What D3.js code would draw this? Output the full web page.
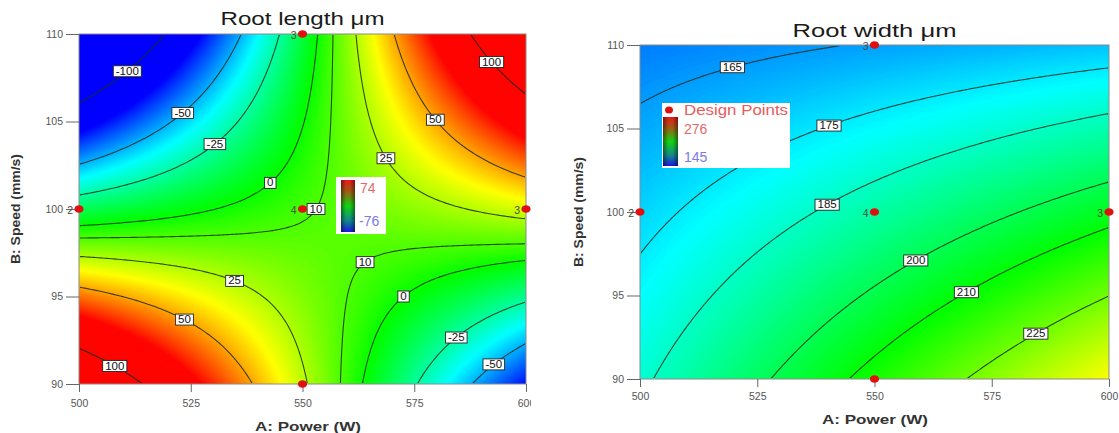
<!DOCTYPE html>
<html><head><meta charset="utf-8">
<script src="https://cdn.jsdelivr.net/npm/d3@7"></script>
<style>
body{margin:0;background:#fff;}
svg{display:block;font-family:"Liberation Sans",Arial,sans-serif;}
</style>
</head><body>
<svg id="chart" width="1119" height="433"></svg>
<script>
// ---------------- data ----------------
const powerTicks = [500, 525, 550, 575, 600];
const speedTicks = [90, 95, 100, 105, 110];
// response-surface coefficients (coded units): [intercept, A, B, AB]
const lengthCoef = [8.65, 22.3, -18.6, 124];
const widthCoef  = [189.4, 17.2, -23.85, -12.75];
const lengthLevels = [-100, -50, -25, 0, 10, 25, 50, 100];
const widthLevels  = [165, 175, 185, 200, 210, 225];
const lengthRange = [-76, 74];
const widthRange  = [145, 276];
// contour label anchors: power, speed, level
const lengthLabelPower = [510.8, 523.2, 530.4, 542.8, 552.3, 569.2, 580, 592.4, 564, 572.6, 584.4, 592.8, 534.8, 523.6, 508];
const lengthLabelSpeed = [108.1, 105.9, 104.1, 101.9, 100, 102.9, 105.1, 108.4, 97.6, 95.7, 93.4, 91.9, 96.3, 94.2, 91.6];
const lengthLabelLevel = [-100, -50, -25, 0, 10, 25, 50, 100, 10, 0, -25, -50, 25, 50, 100];
const widthLabelPower = [519.7, 540.3, 539.9, 558.8, 569.6, 584.4];
const widthLabelSpeed = [109.1, 105.6, 100.9, 97.5, 95.6, 93.1];
const widthLabelLevel = [165, 175, 185, 200, 210, 225];
// design points
const designPower = [550, 500, 550, 600, 550];
const designSpeed = [110, 100, 100, 100, 90];
const designCount = ["3", "2", "4", "3", ""];

// ---------------- drawing ----------------
const svg = d3.select("#chart");
const defs = svg.append("defs");

function model(c, A, B) {
  const X = (A - 550) / 50, Y = (B - 100) / 10;
  return c[0] + c[1] * X + c[2] * Y + c[3] * X * Y;
}

function drawPanel(p) {
  const root = svg.append("g");
  if (p.clipW) {
    defs.append("clipPath").attr("id", p.id + "-panel")
      .append("rect").attr("x", 0).attr("y", 0).attr("width", p.clipW).attr("height", 433);
    root.attr("clip-path", `url(#${p.id}-panel)`);
  }
  const x = d3.scaleLinear().domain([500, 600]).range([p.left, p.right]);
  const y = d3.scaleLinear().domain([90, 110]).range([p.bottom, p.top]);
  const w = p.right - p.left, h = p.bottom - p.top;
  const nx = 200, ny = 160;
  const vals = new Array(nx * ny);
  for (let j = 0; j < ny; j++) {
    const B = y.invert(p.top + (j + 0.5) * h / ny);
    for (let i = 0; i < nx; i++) {
      const A = x.invert(p.left + (i + 0.5) * w / nx);
      vals[j * nx + i] = model(p.coef, A, B);
    }
  }
  const proj = d3.geoTransform({point(px, py) {
    this.stream.point(x(500 + px / nx * 100), y(110 - py / ny * 20));
  }});
  const path = d3.geoPath(proj);
  const r = p.range;
  const color = d3.scaleLinear()
    .domain(d3.range(5).map(k => r[0] + k * (r[1] - r[0]) / 4))
    .range(["#0000ff", "#00ffff", "#00ff00", "#ffff00", "#ff0000"])
    .clamp(true);
  const [vmin, vmax] = d3.extent(vals);
  const lo = Math.max(vmin, r[0]), hi = Math.min(vmax, r[1]);
  const nb = 180, step = (hi - lo) / nb;
  const ths = d3.range(nb).map(k => lo + k * step);

  root.append("rect").attr("x", p.left).attr("y", p.top).attr("width", w).attr("height", h)
    .attr("fill", color(vmin));
  root.append("g").selectAll("path")
    .data(d3.contours().size([nx, ny]).thresholds(ths)(vals))
    .join("path").attr("d", path).attr("fill", d => color(d.value + step / 2));

  // contour lines (clipped to hide frame segments)
  defs.append("clipPath").attr("id", p.id + "-inner")
    .append("rect").attr("x", p.left + 1).attr("y", p.top + 1).attr("width", w - 2).attr("height", h - 2);
  root.append("g").attr("clip-path", `url(#${p.id}-inner)`)
    .selectAll("path")
    .data(d3.contours().size([nx, ny]).thresholds(p.levels)(vals))
    .join("path").attr("d", path)
    .attr("fill", "none").attr("stroke", "#1b2b1b").attr("stroke-width", 1.1).attr("stroke-opacity", 0.85);

  // frame
  root.append("rect").attr("x", p.left).attr("y", p.top).attr("width", w).attr("height", h)
    .attr("fill", "none").attr("stroke", "#8a8a8a").attr("stroke-width", 1);

  // axes
  const ax = root.append("g").attr("transform", `translate(0,${p.bottom})`)
    .call(d3.axisBottom(x).tickValues(powerTicks).tickSize(8).tickSizeOuter(0).tickPadding(p.xPad));
  const ay = root.append("g").attr("transform", `translate(${p.left},0)`)
    .call(d3.axisLeft(y).tickValues(speedTicks).tickSize(13).tickSizeOuter(0).tickPadding(3));
  [ax, ay].forEach(a => {
    a.select(".domain").remove();
    a.selectAll("line").attr("stroke", "#666");
    a.selectAll("text").attr("fill", "#555").attr("font-size", 10.5).attr("font-family", "Liberation Sans, Arial, sans-serif");
  });

  // contour labels
  const lab = root.append("g");
  p.labPower.forEach((A0, k) => {
    const L = p.labLevel[k], c = p.coef;
    const X = (A0 - 550) / 50, Y = (p.labSpeed[k] - 100) / 10;
    const Ys = (L - c[0] - c[1] * X) / (c[2] + c[3] * X);
    const Xs = (L - c[0] - c[2] * Y) / (c[1] + c[3] * Y);
    const cands = [[A0, 100 + 10 * Ys], [550 + 50 * Xs, p.labSpeed[k]]];
    let best = cands[0], bd = Infinity;
    cands.forEach(cd => {
      const d = Math.hypot(x(cd[0]) - x(A0), y(cd[1]) - y(p.labSpeed[k]));
      if (isFinite(d) && d < bd) { bd = d; best = cd; }
    });
    const cx = x(best[0]), cy = y(best[1]);
    const gg = lab.append("g");
    const rect = gg.append("rect");
    const t = gg.append("text").attr("x", cx).attr("y", cy + 3.6).attr("text-anchor", "middle")
      .attr("font-size", 10).attr("fill", "#111").text(String(L));
    const tw = t.node().getComputedTextLength() * 1.15;
    t.attr("textLength", tw).attr("lengthAdjust", "spacingAndGlyphs");
    rect.attr("x", cx - tw / 2 - 2.5).attr("y", cy - 5.5).attr("width", tw + 5).attr("height", 11)
      .attr("fill", "#fff").attr("stroke", "#222").attr("stroke-width", 0.9);
  });

  // design points
  const dp = root.append("g");
  designPower.forEach((A, k) => {
    dp.append("ellipse").attr("cx", x(A)).attr("cy", y(designSpeed[k])).attr("rx", 4.6).attr("ry", 3.8)
      .attr("fill", "#e01010");
    if (designCount[k]) {
      dp.append("text").attr("x", x(A) - 6).attr("y", y(designSpeed[k]) + 5).attr("text-anchor", "end")
        .attr("font-size", 10.5).attr("fill", "#4a4a3a").text(designCount[k]);
    }
  });

  // titles
  root.append("text").attr("x", (p.left + p.right) / 2).attr("y", p.titleY).attr("text-anchor", "middle")
    .attr("font-size", 19).attr("fill", "#1a1a1a").attr("textLength", p.titleLen).attr("lengthAdjust", "spacingAndGlyphs")
    .text(p.title);
  root.append("text").attr("x", p.xTitleX).attr("y", p.xTitleY).attr("text-anchor", "middle")
    .attr("font-size", 13).attr("font-weight", "bold").attr("fill", "#333")
    .attr("textLength", 106).attr("lengthAdjust", "spacingAndGlyphs").text("A: Power (W)");
  root.append("text").attr("transform", `translate(${p.yTitleX},${(p.top + p.bottom) / 2}) rotate(-90)`)
    .attr("text-anchor", "middle").attr("font-size", 13).attr("font-weight", "bold").attr("fill", "#333")
    .attr("textLength", 110).attr("lengthAdjust", "spacingAndGlyphs").text("B: Speed (mm/s)");
  return {root, color};
}

function colorBar(g, id, bx, by, bw, bh) {
  const gr = defs.append("linearGradient").attr("id", id).attr("x1", 0).attr("y1", 0).attr("x2", 0).attr("y2", 1);
  [["0%", "#e81818"], ["22%", "#a05a14"], ["50%", "#12d212"], ["78%", "#128a8a"], ["100%", "#1818e0"]]
    .forEach(s => gr.append("stop").attr("offset", s[0]).attr("stop-color", s[1]));
  const sh = defs.append("linearGradient").attr("id", id + "-sh").attr("x1", 0).attr("y1", 0).attr("x2", 1).attr("y2", 0);
  [["0%", 0.45], ["35%", 0], ["65%", 0], ["100%", 0.45]]
    .forEach(s => sh.append("stop").attr("offset", s[0]).attr("stop-color", "#000").attr("stop-opacity", s[1]));
  g.append("rect").attr("x", bx).attr("y", by).attr("width", bw).attr("height", bh).attr("fill", `url(#${id})`);
  g.append("rect").attr("x", bx).attr("y", by).attr("width", bw).attr("height", bh).attr("fill", `url(#${id}-sh)`);
}

// left panel
const L = drawPanel({
  id: "len", left: 79, right: 526, top: 34, bottom: 384, clipW: 531,
  coef: lengthCoef, levels: lengthLevels, range: lengthRange,
  labPower: lengthLabelPower, labSpeed: lengthLabelSpeed, labLevel: lengthLabelLevel,
  title: "Root length μm", titleY: 25, titleLen: 164,
  xTitleX: 308, xTitleY: 431, yTitleX: 20, xPad: 8
});
const legL = L.root.append("g");
legL.append("rect").attr("x", 336).attr("y", 177).attr("width", 50).attr("height", 57).attr("fill", "#fff");
colorBar(legL, "cbL", 341, 180, 14, 52);
legL.append("text").attr("x", 360).attr("y", 193).attr("font-size", 14).attr("fill", "#e06a6a").text(lengthRange[1]);
legL.append("text").attr("x", 359).attr("y", 226).attr("font-size", 14).attr("fill", "#7a7ae6").text(lengthRange[0]);

// right panel
const R = drawPanel({
  id: "wid", left: 640, right: 1109, top: 45, bottom: 379, clipW: null,
  coef: widthCoef, levels: widthLevels, range: widthRange,
  labPower: widthLabelPower, labSpeed: widthLabelSpeed, labLevel: widthLabelLevel,
  title: "Root width μm", titleY: 37, titleLen: 164,
  xTitleX: 875, xTitleY: 424, yTitleX: 583, xPad: 6
});
const legR = R.root.append("g");
legR.append("rect").attr("x", 662).attr("y", 103).attr("width", 128).attr("height", 65).attr("fill", "#fff");
legR.append("ellipse").attr("cx", 669).attr("cy", 110).attr("rx", 4).attr("ry", 3.5).attr("fill", "#e01010");
legR.append("text").attr("x", 684).attr("y", 115).attr("font-size", 14).attr("fill", "#e85a5a")
  .attr("textLength", 104).attr("lengthAdjust", "spacingAndGlyphs").text("Design Points");
colorBar(legR, "cbR", 663, 117, 15, 49);
legR.append("text").attr("x", 684).attr("y", 134).attr("font-size", 14).attr("fill", "#e06a6a").text(widthRange[1]);
legR.append("text").attr("x", 684).attr("y", 162).attr("font-size", 14).attr("fill", "#7a7ae6").text(widthRange[0]);
</script>
</body></html>
